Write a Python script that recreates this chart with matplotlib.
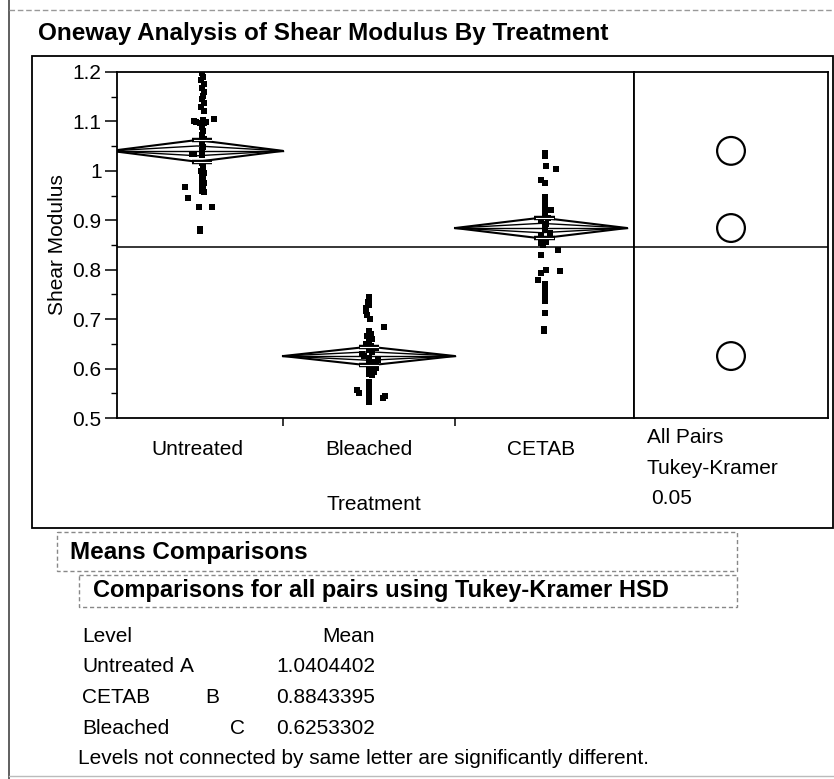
import matplotlib
matplotlib.use('Agg')
import matplotlib.pyplot as plt
import numpy as np
from matplotlib.patches import Rectangle
from matplotlib.ticker import MultipleLocator, FixedLocator, FuncFormatter, NullFormatter

# ---- data ----
treatments = ['Untreated', 'Bleached', 'CETAB']

untreated = [1.197, 1.190, 1.183, 1.175, 1.168, 1.160, 1.152, 1.145, 1.137, 1.130, 1.122,
             1.104, 1.100, 1.098, 1.097, 1.096, 1.099, 1.102,
             1.088, 1.080, 1.072, 1.064, 1.056, 1.048, 1.042, 1.035, 1.035, 1.033,
             1.015, 1.008, 1.000, 0.995, 0.990, 0.985, 0.980, 0.975, 0.970, 0.965, 0.960, 0.957,
             0.968, 0.945, 0.927, 0.927, 0.882, 0.879]

bleached = [0.745, 0.740, 0.735, 0.729, 0.722, 0.716, 0.708, 0.700, 0.684,
            0.675, 0.670, 0.665, 0.660, 0.655, 0.650, 0.645, 0.641, 0.637, 0.633, 0.629,
            0.626, 0.622, 0.618, 0.614, 0.610, 0.606, 0.602, 0.598, 0.594, 0.590, 0.586,
            0.572, 0.563, 0.556, 0.550, 0.545, 0.540, 0.550, 0.541, 0.533]

cetab = [1.036, 1.030, 1.010, 1.004, 0.982, 0.976, 0.947, 0.940, 0.933, 0.927,
         0.921, 0.921, 0.912, 0.905, 0.899, 0.893, 0.887, 0.881, 0.875, 0.869,
         0.862, 0.856, 0.854, 0.849, 0.840, 0.830, 0.800, 0.797, 0.793, 0.780,
         0.772, 0.765, 0.758, 0.751, 0.744, 0.736, 0.712, 0.680, 0.676]

level_means = [1.0404402, 0.6253302, 0.8843395]   # same order as treatments
ci_half = [0.022, 0.019, 0.021]                   # diamond half heights
grand_mean = 0.846

table_levels = ['Untreated', 'CETAB', 'Bleached']
table_letters = ['A', 'B', 'C']
table_means = [1.0404402, 0.8843395, 0.6253302]

# ---- horizontal jitter (layout only) ----
untreated_dx = [0.03, 0.035, 0.025, 0.04, 0.03, 0.042, 0.035, 0.03, 0.04, 0.025, 0.038,
                0.10, -0.02, -0.005, 0.015, 0.04, 0.055, 0.035,
                0.03, 0.035, 0.03, 0.04, 0.03, 0.035, 0.03, -0.03, -0.015, 0.03,
                0.03, 0.035, 0.025, 0.04, 0.03, 0.035, 0.03, 0.04, 0.03, 0.035, 0.03, 0.04,
                -0.07, -0.05, 0.01, 0.09, 0.015, 0.02]
bleached_dx = [0.0, 0.0, -0.005, 0.0, -0.02, -0.015, -0.01, 0.005, 0.085,
               0.0, 0.01, -0.01, 0.02, 0.0, -0.02, 0.01, 0.04, 0.0, 0.02, -0.04,
               -0.03, 0.0, 0.05, 0.03, 0.0, 0.02, 0.04, 0.0, 0.03, 0.0, 0.02,
               0.0, 0.0, -0.07, -0.06, 0.09, 0.08, 0.0, 0.0, 0.0]
cetab_dx = [0.02, 0.025, 0.03, 0.085, 0.0, 0.02, 0.02, 0.02, 0.02, 0.02,
            0.02, 0.06, 0.02, 0.04, 0.0, 0.03, 0.02, 0.02, 0.05, 0.0,
            0.02, 0.03, 0.0, 0.01, 0.10, 0.0, 0.03, 0.11, 0.0, -0.02,
            0.02, 0.02, 0.02, 0.02, 0.02, 0.02, 0.02, 0.015, 0.015]

plt.rcParams['font.family'] = ['Liberation Sans', 'DejaVu Sans']
FS = 15
HFS = 17.5

W, H = 834, 779
fig = plt.figure(figsize=(W / 100, H / 100), dpi=100)


def px_axes(l, t, r, b):
    return fig.add_axes([l / W, 1 - b / H, (r - l) / W, (b - t) / H])


# background layer in pixel coordinates for frames and report text
bg = fig.add_axes([0, 0, 1, 1])
bg.set_xlim(0, W)
bg.set_ylim(H, 0)
bg.axis('off')

bg.plot([9, 9], [0, H], color='#444444', lw=1.2)
bg.plot([9, W], [10, 10], color='#999999', lw=1, ls=(0, (4, 2)))
bg.plot([9, W], [776, 776], color='#bbbbbb', lw=1)
bg.text(38, 33, 'Oneway Analysis of Shear Modulus By Treatment',
        fontweight='bold', fontsize=HFS, va='center', ha='left')
bg.add_patch(Rectangle((32, 56), 801, 472, fill=False, ec='black', lw=1.3))

bg.add_patch(Rectangle((57, 532), 680, 39, fill=False, ec='#888888', lw=1, ls=(0, (3, 2))))
bg.text(70, 552, 'Means Comparisons', fontweight='bold',
        fontsize=HFS, va='center', ha='left')
bg.add_patch(Rectangle((79, 575), 658, 32, fill=False, ec='#888888', lw=1, ls=(0, (3, 2))))
bg.text(93, 590, 'Comparisons for all pairs using Tukey-Kramer HSD', fontweight='bold',
        fontsize=17, va='center', ha='left')

bg.text(82, 637, 'Level', fontsize=FS, va='center')
bg.text(375, 637, 'Mean', fontsize=FS, va='center', ha='right')
letter_x = [187, 212, 238]
for k, (lev, let, m) in enumerate(zip(table_levels, table_letters, table_means)):
    y = 667 + 30.5 * k
    bg.text(82, y, lev, fontsize=FS, va='center')
    bg.text(letter_x[k], y, let, fontsize=FS, va='center', ha='center')
    bg.text(375, y, f'{m:.7f}', fontsize=FS, va='center', ha='right')
bg.text(78, 758, 'Levels not connected by same letter are significantly different.',
        fontsize=FS, va='center')

bg.text(647, 437, 'All Pairs', fontsize=FS, va='center')
bg.text(647, 468, 'Tukey-Kramer', fontsize=FS, va='center')
bg.text(651, 498, '0.05', fontsize=FS, va='center')

# ---- main oneway plot ----
ax = px_axes(117, 72, 634, 418)
ax.set_xlim(0.035, 3.04)
ax.set_ylim(0.5, 1.2)
for s in ax.spines.values():
    s.set_linewidth(1.3)

groups = [untreated, bleached, cetab]
jitters = [untreated_dx, bleached_dx, cetab_dx]
col_shift = [0.03, 0.0, 0.02]
for i, (vals, dx) in enumerate(zip(groups, jitters)):
    xs = i + 0.5 + np.array(dx)
    ax.scatter(xs, vals, marker='s', s=16, color='black', lw=0, zorder=3)

for i, (m, h) in enumerate(zip(level_means, ci_half)):
    x0, xc, x1 = i, i + 0.5, i + 1
    ax.plot([x0, xc, x1, xc, x0], [m, m + h, m, m - h, m], color='black', lw=1.5, zorder=2)
    hi = h * 0.45
    ax.plot([x0, xc, x1, xc, x0], [m, m + hi, m, m - hi, m], color='black', lw=1.0, zorder=2)
    ax.plot([x0, x1], [m, m], color='black', lw=1.0, zorder=2)
    bx = xc + col_shift[i]
    for yy in (m + h, m - h):
        ax.plot([bx - 0.06, bx + 0.06], [yy, yy], color='black', lw=3.2, zorder=4,
                solid_capstyle='butt')
        ax.plot([bx - 0.05, bx + 0.05], [yy, yy], color='white', lw=0.8, zorder=5)

ax.axhline(grand_mean, color='black', lw=1.1, zorder=1)

ax.yaxis.set_major_locator(MultipleLocator(0.1))
ax.yaxis.set_minor_locator(MultipleLocator(0.05))
ax.yaxis.set_major_formatter(FuncFormatter(lambda v, p: f'{v:g}'))
ax.tick_params(axis='y', which='major', length=9, width=1.1, labelsize=FS, pad=2)
ax.tick_params(axis='y', which='minor', length=4.5, width=1.0)

ax.xaxis.set_major_locator(FixedLocator([1, 2]))
ax.xaxis.set_major_formatter(NullFormatter())
ax.xaxis.set_minor_locator(FixedLocator([0.5, 1.5, 2.5]))
ax.xaxis.set_minor_formatter(FuncFormatter(lambda v, p: treatments[int(v)]))
ax.tick_params(axis='x', which='major', length=6, width=1.1)
ax.tick_params(axis='x', which='minor', length=0, labelsize=FS, pad=16)

ax.set_ylabel('Shear Modulus', fontsize=FS)
ax.yaxis.set_label_coords(-(117 - 58) / 517, 0.5)
ax.yaxis.label.set_va('center')
ax.set_xlabel('Treatment', fontsize=FS)
ax.xaxis.set_label_coords((374 - 117) / 517, -(505 - 418) / 346)
ax.xaxis.label.set_va('center')

# ---- comparison circles panel ----
cx = px_axes(634, 72, 828, 418)
cx.set_xlim(0, 1)
cx.set_ylim(0.5, 1.2)
cx.set_xticks([])
cx.set_yticks([])
for s in cx.spines.values():
    s.set_linewidth(1.3)
cx.axhline(grand_mean, color='black', lw=1.1)
cx.scatter([0.5] * len(level_means), level_means, s=400, facecolors='none',
           edgecolors='black', linewidths=1.6, zorder=3)

fig.savefig('out.png', dpi=100)
